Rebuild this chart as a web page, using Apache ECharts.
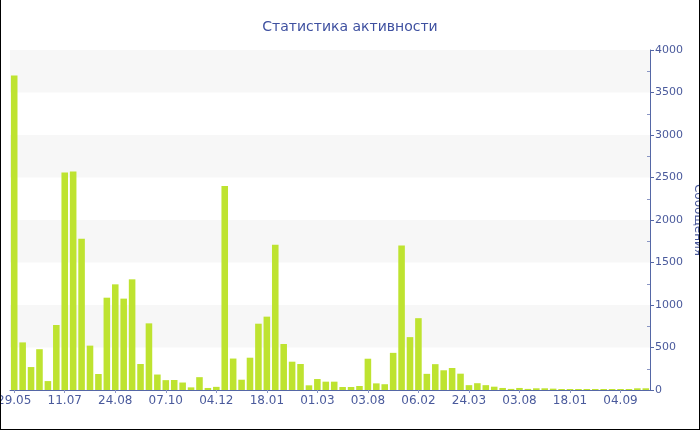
<!DOCTYPE html>
<html>
<head>
<meta charset="utf-8">
<script src="https://cdn.jsdelivr.net/npm/echarts@6/dist/echarts.min.js"></script>
<style>
html,body{margin:0;padding:0;background:#fff;overflow:hidden;}
#chart{position:absolute;left:0;top:0;width:700px;height:430px;}
#frame{position:absolute;left:0;top:-1px;width:700px;height:431px;box-sizing:border-box;border:1px solid #000;pointer-events:none;}
</style>
</head>
<body>
<div id="chart"></div>
<div id="frame"></div>
<script>
const titleText = 'Статистика активности';
const axisName = 'Сообщения';
const categories = [
  '29.05','05.06','12.06','19.06','26.06','04.07',
  '11.07','18.07','25.07','01.08','08.08','16.08',
  '24.08','31.08','07.09','14.09','21.09','29.09',
  '07.10','17.10','27.10','06.11','15.11','25.11',
  '04.12','10.12','17.12','24.12','31.12','09.01',
  '18.01','25.01','01.02','08.02','15.02','22.02',
  '01.03','26.03','20.04','15.05','09.06','05.07',
  '03.08','03.09','04.10','04.11','05.12','05.01',
  '06.02','13.02','20.02','27.02','06.03','15.03',
  '24.03','15.04','07.05','29.05','20.06','12.07',
  '03.08','01.09','29.09','27.10','24.11','22.12',
  '18.01','26.02','06.04','15.05','24.06','25.07',
  '04.09','02.10','30.10','27.11'
];
const messages = [
  3700,560,270,480,105,765,2560,2570,1780,522,
  188,1086,1243,1075,1302,306,784,182,116,118,
  88,31,151,24,37,2400,370,121,380,780,
  863,1710,541,333,306,55,129,98,98,35,
  35,47,368,78,68,437,1699,622,845,190,
  304,232,259,192,57,80,57,39,24,13,
  24,13,20,20,16,12,12,12,12,12,
  12,12,12,12,20,20
];
const yMin = 0, yMax = 4000, yStep = 500;

const txt = '#4a5a9c';
const axisCol = '#5567a6';
const gridBox = {left: 10, right: 50, top: 50, bottom: 40, containLabel: false, outerBoundsMode: 'none'};
const chart = echarts.init(document.getElementById('chart'), null, {renderer:'canvas'});
chart.setOption({
  animation: false,
  title: {
    text: titleText, left: 'center', top: 15,
    textStyle: {fontFamily: 'DejaVu Sans', fontSize: 14, fontWeight: 'normal', color: '#3e50a0'}
  },
  grid: [Object.assign({}, gridBox), Object.assign({}, gridBox)],
  xAxis: [{
    type: 'category', data: categories, boundaryGap: true, gridIndex: 0,
    axisLine: {lineStyle: {color: axisCol, width: 1}},
    axisTick: {show: true, interval: 5, alignWithLabel: true, length: 3, lineStyle: {color: '#8a96c4'}},
    axisLabel: {interval: 5, margin: 5, fontFamily: 'DejaVu Sans', fontSize: 12, color: txt},
    splitLine: {show: false}
  }, {
    type: 'category', data: categories, gridIndex: 1, show: false
  }],
  yAxis: [{
    type: 'value', position: 'right', min: yMin, max: yMax, interval: yStep, gridIndex: 0,
    name: axisName, nameLocation: 'middle', nameRotate: -90, nameGap: 42, nameMoveOverlap: false,
    nameTextStyle: {fontFamily: 'DejaVu Sans', fontSize: 12, color: txt},
    axisLine: {show: true, lineStyle: {color: axisCol, width: 1}},
    axisTick: {show: true, length: 4, lineStyle: {color: axisCol}},
    axisLabel: {margin: 5, fontFamily: 'DejaVu Sans', fontSize: 11, color: txt, formatter: v => String(v)},
    splitLine: {show: false},
    splitArea: {show: true, areaStyle: {color: ['#ffffff', '#f7f7f7']}}
  }, {
    type: 'value', position: 'right', min: yMin, max: yMax, interval: yStep, gridIndex: 1,
    axisLine: {show: false}, axisLabel: {show: false},
    axisTick: {show: false, inside: true},
    minorTick: {show: true, splitNumber: 2, length: 3, lineStyle: {color: '#8a96c4'}},
    splitLine: {show: false}, splitArea: {show: false}
  }],
  series: [{
    type: 'bar', data: messages, xAxisIndex: 0, yAxisIndex: 0,
    barCategoryGap: '22%',
    itemStyle: {color: '#bee330'}
  }]
});
</script>
</body>
</html>
